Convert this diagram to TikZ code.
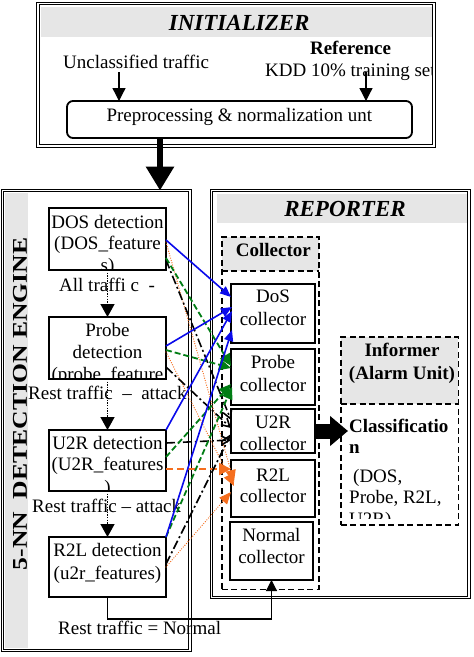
\documentclass[tikz,border=0pt]{standalone}
\usepackage{fontspec}
\setmainfont{Liberation Serif}
\usetikzlibrary{arrows.meta,calc}
\definecolor{bandgray}{RGB}{230,230,230}
\definecolor{cblue}{RGB}{10,10,235}
\definecolor{cgreen}{RGB}{0,125,20}
\definecolor{corange}{RGB}{245,110,30}
\tikzset{
  txt/.style={font=\fontsize{19}{21.5}\selectfont, inner sep=0pt},
  btxt/.style={font=\fontsize{19}{21.5}\selectfont\bfseries, inner sep=0pt},
  ttl/.style={font=\fontsize{23}{26}\selectfont\bfseries\itshape, inner sep=0pt},
  dblbox/.style={draw, double, line width=1.1pt, double distance=1.6pt, inner sep=0pt, outer sep=0pt},
  solidbox/.style={draw, line width=1.6pt, fill=white, inner sep=0pt, outer sep=0pt},
  dashbox/.style={draw, line width=1.6pt, dash pattern=on 6pt off 3.5pt, inner sep=0pt, outer sep=0pt},
  band/.style={fill=bandgray, draw=none, inner sep=0pt, outer sep=0pt},
  bl/.style={cblue, line width=1.6pt, -{Triangle[length=11pt,width=9pt]}},
  gr/.style={cgreen, line width=1.8pt, dash pattern=on 6pt off 3pt, -{Triangle[length=12pt,width=11pt]}},
  bk/.style={black, line width=1.6pt, dash pattern=on 9pt off 3pt on 2pt off 3pt, -{Straight Barb[length=8pt,width=9pt]}},
  orD/.style={corange, line width=1.3pt, line cap=round, dash pattern=on 0pt off 2.4pt, -{Triangle[length=12pt,width=10pt]}},
  orT/.style={corange, line width=2.4pt, dash pattern=on 7pt off 4pt, -{Triangle[length=12pt,width=12pt]}},
  dotar/.style={black, line width=1.4pt, dash pattern=on 1.3pt off 1.3pt, -{Triangle[length=13pt,width=14pt]}},
  plainar/.style={black, line width=1.3pt, -{Triangle[length=13pt,width=13pt]}}
}
\begin{document}
\begin{tikzpicture}[x=1pt,y=-1pt]
\useasboundingbox (0,0) rectangle (474,657);
\fill[white] (0,0) rectangle (474,657);

% ---------- INITIALIZER ----------
\node[band, minimum width=392pt, minimum height=30pt] (initband) at (236.7,21.7) {};
\node[dblbox, minimum width=396.2pt, minimum height=142.5pt] (init) at (235.9,74.75) {};
\node[ttl, anchor=base] (inittitle) at (239.2,30.2) {INITIALIZER};
\node[btxt, anchor=base] (ref) at (350.5,54.2) {Reference};
\node[txt, anchor=base west] (uncl) at (63,68.6) {Unclassified traffic};
\begin{scope}
\clip (0,0) rectangle (431,657);
\node[txt, anchor=base west] (kdd) at (265,76) {KDD 10\% training set};
\end{scope}
\node[draw, line width=1.8pt, rounded corners=6pt, inner sep=0pt, outer sep=0pt,
      minimum width=345pt, minimum height=37pt] (pre) at (239.5,119.5) {};
\node[txt, anchor=base] (pretext) at (239.3,121) {Preprocessing \& normalization unt};
\coordinate (ua) at (119,72);
\coordinate (ka) at (366,72);
\draw[plainar] (ua) -- (ua |- pre.north);
\draw[plainar] (ka) -- (ka |- pre.north);

% ---------- DETECTION ENGINE ----------
\node[band, minimum width=23.5pt, minimum height=455pt] (engband) at (16.25,420.5) {};
\node[dblbox, minimum width=187.5pt, minimum height=460pt] (eng) at (96.25,420.5) {};
\node[rotate=90, anchor=base, inner sep=0pt, font=\fontsize{21}{23}\selectfont\bfseries]
  (engtitle) at (27,404) {\scalebox{1.22}[1]{5-NN\ \ DETECTION ENGINE}};

\coordinate (ax) at (160,0);
\draw[line width=6pt, -{Triangle[length=24pt,width=27pt]}] (pre.south -| ax) -- (eng.north -| ax);

\node[solidbox, minimum width=117pt, minimum height=62pt] (dos) at (107.5,239) {};
\node[solidbox, minimum width=117pt, minimum height=62pt] (probe) at (107.5,348) {};
\node[solidbox, minimum width=117pt, minimum height=61pt] (u2r) at (107.5,460.5) {};
\node[solidbox, minimum width=117pt, minimum height=60pt] (r2l) at (107.5,567) {};

\begin{scope}
\clip (dos.south west) rectangle (dos.north east);
\node[txt, anchor=base] (dosA) at (107.5,228) {DOS detection};
\node[txt, anchor=base] (dosB) at (107.5,249.5) {(DOS\_feature};
\node[txt, anchor=base] (dosC) at (107.5,271) {s)};
\end{scope}
\begin{scope}
\clip (probe.south west) rectangle (probe.north east);
\node[txt, anchor=base] (prA) at (107.5,336) {Probe};
\node[txt, anchor=base] (prB) at (107.5,358.7) {detection};
\node[txt, anchor=base] (prC) at (107.5,380.5) {(probe\_feature};
\end{scope}
\begin{scope}
\clip (u2r.south west) rectangle (u2r.north east);
\node[txt, anchor=base] (uA) at (107.5,449.3) {U2R detection};
\node[txt, anchor=base] (uB) at (107.5,470.5) {(U2R\_features};
\node[txt, anchor=base] (uC) at (107.5,493) {)};
\end{scope}
\node[txt, anchor=base] (rA) at (107.5,556) {R2L detection};
\node[txt, anchor=base] (rB) at (107.5,579.5) {(u2r\_features)};

\node[txt, anchor=base west] (lab1) at (59,291.5) {All traffi c\ \ -};
\node[txt, anchor=base west] (lab2) at (28,399) {Rest traffic\ \ --\ \ attack};
\node[txt, anchor=base west] (lab3) at (32,512.6) {Rest traffic -- attack};
\node[txt, anchor=base west] (lab4) at (58,634) {Rest traffic = Normal};

\draw[dotar] (dos.south) -- (probe.north);
\draw[dotar] (probe.south) -- (u2r.north);
\draw[dotar] (u2r.south) -- (r2l.north);

% ---------- REPORTER ----------
\node[band, minimum width=250pt, minimum height=29pt] (repband) at (341.7,208.5) {};
\node[dblbox, minimum width=257.5pt, minimum height=407pt] (rep) at (340.25,394) {};
\node[ttl, anchor=base] (reptitle) at (345,216) {REPORTER};

\node[band, minimum width=97.1pt, minimum height=34pt] (collband) at (270.25,253.7) {};
\node[dashbox, minimum width=97.1pt, minimum height=352.6pt] (coll) at (270.25,413) {};
\draw[line width=1.6pt, dash pattern=on 6pt off 3.5pt] (coll.west |- 0,270.7) coordinate (csepA) -- (coll.east |- 0,270.7) coordinate (csepB);
\node[btxt, anchor=base] (colltitle) at (273.3,256) {Collector};

\node[band, minimum width=117.6pt, minimum height=67.3pt] (infband) at (399.5,370.35) {};
\node[dashbox, minimum width=117.6pt, minimum height=188.3pt] (inf) at (399.5,430.85) {};
\draw[line width=1.6pt, dash pattern=on 6pt off 3.5pt] (inf.west |- 0,404) coordinate (isepA) -- (inf.east |- 0,404) coordinate (isepB);
\node[btxt, anchor=base] (infA) at (402,356.6) {Informer};
\node[btxt, anchor=base] (infB) at (402,379.3) {(Alarm Unit)};

\node[solidbox, minimum width=84pt, minimum height=59pt] (cdos) at (273,313.5) {};
\node[solidbox, minimum width=84pt, minimum height=56pt] (cprobe) at (273,377) {};
\node[solidbox, minimum width=84pt, minimum height=44pt] (cu2r) at (273,431) {};
\node[solidbox, minimum width=84pt, minimum height=57pt] (cr2l) at (273,488.5) {};
\node[solidbox, minimum width=83pt, minimum height=58pt] (cnorm) at (271.5,551) {};

\node[txt, anchor=base] (cdA) at (273,302.6) {DoS};
\node[txt, anchor=base] (cdB) at (273,325) {collector};
\node[txt, anchor=base] (cpA) at (273,368.6) {Probe};
\node[txt, anchor=base] (cpB) at (273,391) {collector};
\node[txt, anchor=base] (cuA) at (273,428.6) {U2R};
\node[txt, anchor=base] (cuB) at (273,450) {collector};
\node[txt, anchor=base] (crA) at (273,481) {R2L};
\node[txt, anchor=base] (crB) at (273,502) {collector};
\node[txt, anchor=base] (cnA) at (271.5,541) {Normal};
\node[txt, anchor=base] (cnB) at (271.5,563.5) {collector};

\begin{scope}
\clip (341,405) rectangle (458,518);
\node[btxt, anchor=base west] (clA) at (349,432) {Classificatio};
\node[btxt, anchor=base west] (clB) at (349,453.5) {n};
\node[txt, anchor=base west] (clC) at (353,482.6) {(DOS,};
\node[txt, anchor=base west] (clD) at (349,503.3) {Probe, R2L,};
\node[txt, anchor=base west] (clE) at (349,525) {U2R)};
\end{scope}

\coordinate (clsin) at (348,431);
\draw[line width=15pt, -{Triangle[length=18pt,width=29pt]}] ([xshift=1pt]cu2r.east) -- (clsin);

\draw[black, line width=1.2pt, -{Triangle[length=11pt,width=11pt]}]
  (r2l.south) -- ++(0,22) coordinate (nturn) -| (cnorm.south);

% ---------- connectors ----------
% orange
\draw[orD] ($(dos.north east)+(0,34)$) -- ($(cr2l.north west)+(3,22)$);
\draw[orD] ($(probe.north east)+(0,35)$) -- ($(cr2l.north west)+(3,26)$);
\draw[orT] ($(u2r.north east)+(0,39)$) -- ($(cr2l.north west)+(0,9)$);
\draw[orD] ($(r2l.north east)+(0,30)$) -- ($(cr2l.north west)+(0,32)$);
% black dash-dot
\draw[bk] ($(dos.north east)+(0,52)$) -- ($(cu2r.north west)+(0,11)$);
\draw[bk] ($(probe.north east)+(0,50)$) -- ($(cu2r.north west)+(0,19)$);
\draw[bk] ($(u2r.north east)+(0,13)$) -- ($(cu2r.north west)+(0,31)$);
\draw[bk] ($(r2l.north east)+(0,27)$) -- ($(cu2r.north west)+(0,25)$);
% green dashed
\draw[gr] ($(dos.north east)+(0,50)$) -- ($(cprobe.north west)+(0,17)$);
\draw[gr] ($(probe.north east)+(0,33)$) -- ($(cprobe.north west)+(0,19)$);
\draw[gr] ($(u2r.north east)+(0,27)$) -- ($(cprobe.north west)+(0,35)$);
\draw[gr] (r2l.north east) -- ($(cprobe.north west)+(1,38)$);
% blue
\draw[bl] ($(dos.north east)+(0,32)$) -- ($(cdos.north west)+(0,13)$);
\draw[bl] ($(probe.north east)+(0,29)$) -- ($(cdos.north west)+(1,23)$);
\draw[bl] (u2r.north east) -- ($(cdos.north west)+(1,27)$);
\draw[bl] (r2l.north east) -- ($(cdos.north west)+(1,46)$);
\end{tikzpicture}
\end{document}
